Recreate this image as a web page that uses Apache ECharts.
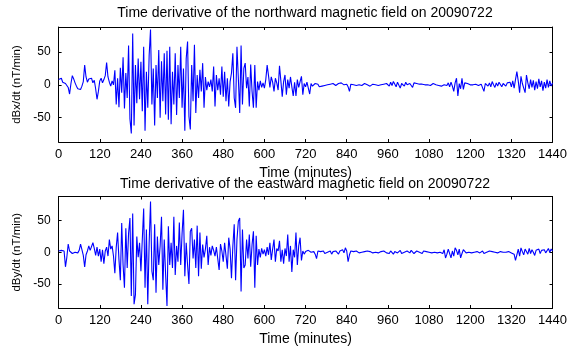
<!DOCTYPE html>
<html>
<head>
<meta charset="utf-8">
<script src="https://cdn.jsdelivr.net/npm/echarts@6/dist/echarts.min.js"></script>
<style>
  html, body { margin: 0; padding: 0; background: #fff; }
  #chart { width: 570px; height: 347px; }
</style>
</head>
<body>
<div id="chart"></div>
<script>
// one sample every 4 minutes, 0..1440
const STEP_MIN = 4;

// northward component, dBx/dt (nT/min)
const dBx = [
  8, 5, 10, 4, 7, 2, 5, -4, -14, 2, 14, 9, 3, -2, -6, -3, -7, -2, 5, 30, 12, 4, 9, 6, 10, 3, 7, -6, -22, -10,
  6, 10, 3, 8, 14, 34, 12, 4, -2, 6, 0, 22, -30, 10, -34, 26, -12, 42, -36, 18, -20, 60, -52, -74, 78, -62, 30, -28, 40, -22,
  35, -40, 58, -70, 20, -35, 45, 84, -30, 25, -62, 30, -20, 53, -50, 36, -25, 48, -45, 52, -53, 58, -60, 20, -30, 48, -46, 30, -20, 58,
  -35, 25, -70, 40, 66, -48, -68, 30, -25, 61, -43, 15, -20, 23, -10, 33, -35, 12, -8, 5, -3, 8, -10, 28, -33, 15, -8, 10, -15, 28,
  -18, 20, -25, 10, -33, 5, 18, 48, -20, -35, 58, 10, -43, 60, -30, 25, 33, -5, 12, -33, 31, -10, -35, 30, -35, 5, -8, 6, -4, 3,
  -5, 8, 30, 14, -4, 12, 4, -10, 10, 3, -8, 29, 6, -18, 5, 15, -15, 8, -5, 12, -3, -17, 4, -17, 8, -4, 5, 13, -15, 2,
  -3, 4, 6, -14, 2, -2, 1, 2, -1, 1, -3, 0, -2, 1, -1, 2, 0, -2, 1, -1, 2, 0, -1, 1, 2, -1, 3, 5, 0, 2,
  1, -3, -10, 1, 2, 0, 1, -1, 2, 0, 1, -1, 0, 2, -1, 0, 1, -2, 0, 1, -1, 0, 2, -1, 1, 0, -2, 1, 0, 2,
  3, -2, 4, -1, 5, 2, -3, 4, 1, -5, 2, 3, -2, 4, 0, -3, 2, 1, -4, 3, 0, 2, -1, 1, 0, 1, -1, 0, 1, 0,
  1, -1, 0, 2, -1, 0, 1, -1, 0, -2, 1, 0, 2, -1, 3, -3, 4, -2, -10, 3, 10, -17, 2, -6, 10, -7, 3, 0, 2, -1,
  0, 1, 0, -1, 1, 0, -1, 0, 1, -2, -10, 2, 4, -2, 3, -3, 5, 0, -4, 3, -2, 4, 1, -3, 2, 5, -2, 3, 0, 4,
  -3, 6, -5, 8, 20, 6, -12, 13, 2, -5, -12, 15, 3, -6, 8, -4, 7, -8, 5, -6, 9, -3, 6, -9, 4, -5, 8, -4, 6, -2,
  3
];

// eastward component, dBy/dt (nT/min)
const dBy = [
  2, 4, 3, 5, 2, -23, -8, 13, 2, 0, -2, 1, 0, 2, -1, 3, 13, 4, -5, -23, -4, 2, 10, 3, 5, 15, 6, -5, 8, -6,
  5, -15, 4, -18, 2, 8, -6, 20, 5, 10, -6, -33, 8, 31, -12, -44, 46, -20, -56, 38, -25, 30, 54, -69, 61, -82, -67, 25, -8, 15,
  -30, 20, 69, -56, 36, -82, 15, 80, -30, -44, 44, -64, 25, -20, 10, 56, -59, 20, -35, -85, 41, -20, 15, -25, 56, -36, 10, -15, 47, -20,
  30, 67, -38, 15, -20, -50, 33, 38, -10, 20, -25, 42, -38, 31, -26, 12, -8, 5, 26, -20, 8, -5, 10, 3, -6, 8, -10, -28, 13, 2,
  -15, 15, -5, -26, 23, 5, -41, 10, 44, -44, 20, 49, 54, -62, 36, -25, -20, 20, -10, 28, -23, 12, 33, -56, 26, -20, 5, -8, 6, -3,
  4, -6, 8, -4, 15, -12, 5, 20, -15, 6, 2, 18, -15, 4, -18, 6, -6, 28, -15, 10, -31, 4, -8, 31, -20, 10, 23, -13, 2, -3,
  1, -2, 3, 5, 0, -2, 1, -3, -10, 2, 0, 1, -1, 2, -2, 1, 0, -1, 2, -3, 1, 0, 2, -1, -3, 2, 0, 4, -1, 7,
  2, -15, -4, 2, 0, 1, -1, 2, 0, -1, 1, 0, -2, 1, 0, 2, -1, 1, 0, -1, 1, 0, 2, -1, 0, 1, -1, 2, 0, -1,
  1, -2, 2, 0, -3, 1, 2, -1, 0, 3, -2, 1, 0, -3, 2, 1, -1, 3, 0, -2, 1, 2, -1, 0, 1, -2, 2, 0, 1, -1,
  0, 2, -1, 1, 0, 2, -1, 1, 0, 3, -2, 4, -9, -3, 5, 7, -9, 2, -6, 7, 3, -4, 5, -9, -2, 4, 1, -1, 2, 0,
  1, -1, 2, 0, -2, 1, 3, -1, 0, 2, -2, 1, 0, -1, 2, 0, 1, -1, 0, 1, -1, 0, 1, -1, 0, 1, 0, -1, 1, 0,
  -1, 2, -3, -13, -4, 5, -6, 7, 1, -4, 5, 2, -3, 6, -2, 4, 0, -5, 3, 1, 5, -2, 3, 0, 4, -1, 2, 6, 0, 5,
  2
];

const yTickValues = [-50, 0, 50];
const titles = [
  'Time derivative of the northward magnetic field on 20090722',
  'Time derivative of the eastward magnetic field on 20090722'
];
const yNames = ['dBx/dt (nT/min)', 'dBy/dt (nT/min)'];
const xName = 'Time (minutes)';

const FONT = 'Liberation Sans';
const toPairs = vals => vals.map((v, i) => [i * STEP_MIN, v]);

const chart = echarts.init(document.getElementById('chart'));

const grids = [
  { left: 58.6, right: 17.3, top: 27, height: 115 },
  { left: 58.6, right: 17.3, top: 196.5, height: 114.5 }
];
const yRanges = [[-87, 88], [-88, 88]];

const line = { show: true, onZero: false, lineStyle: { color: '#000', width: 1 } };
const tick = { show: true, inside: true, length: 3, lineStyle: { color: '#000' } };

const xAxes = [];
const yAxes = [];
grids.forEach((g, i) => {
  xAxes.push({
    gridIndex: i, type: 'value', min: 0, max: 1440, interval: 120, position: 'bottom',
    axisLine: line, axisTick: tick, splitLine: { show: false },
    axisLabel: { color: '#000', fontFamily: FONT, fontSize: 13, margin: 6, formatter: v => String(v) },
    name: xName, nameLocation: 'middle', nameGap: 24,
    nameTextStyle: { color: '#000', fontFamily: FONT, fontSize: 14 }
  });
  xAxes.push({
    gridIndex: i, type: 'value', min: 0, max: 1440, interval: 120, position: 'top',
    axisLine: line, axisTick: tick, splitLine: { show: false }, axisLabel: { show: false }
  });
  yAxes.push({
    gridIndex: i, type: 'value', min: yRanges[i][0], max: yRanges[i][1], position: 'left',
    axisLine: line,
    axisTick: Object.assign({ customValues: yTickValues }, tick),
    splitLine: { show: false },
    axisLabel: { customValues: yTickValues, color: '#000', fontFamily: FONT, fontSize: 12, margin: 8 },
    name: yNames[i], nameLocation: 'middle', nameGap: 35,
    nameTextStyle: { color: '#000', fontFamily: FONT, fontSize: 11.5 }
  });
  yAxes.push({
    gridIndex: i, type: 'value', min: yRanges[i][0], max: yRanges[i][1], position: 'right',
    axisLine: line,
    axisTick: Object.assign({ customValues: yTickValues }, tick),
    splitLine: { show: false }, axisLabel: { show: false }
  });
});

const option = {
  animation: false,
  backgroundColor: '#fff',
  grid: grids,
  xAxis: xAxes,
  yAxis: yAxes,
  graphic: [
    { type: 'text', x: 305, y: 13.5, style: { text: titles[0], fill: '#000', font: '14px ' + FONT, align: 'center', verticalAlign: 'middle' } },
    { type: 'text', x: 305, y: 184, style: { text: titles[1], fill: '#000', font: '14px ' + FONT, align: 'center', verticalAlign: 'middle' } }
  ],
  series: [
    {
      type: 'line', xAxisIndex: 0, yAxisIndex: 0, data: toPairs(dBx),
      showSymbol: false, lineStyle: { color: '#0000ff', width: 1.1 }
    },
    {
      type: 'line', xAxisIndex: 2, yAxisIndex: 2, data: toPairs(dBy),
      showSymbol: false, lineStyle: { color: '#0000ff', width: 1.1 }
    }
  ]
};

chart.setOption(option);
</script>
</body>
</html>
